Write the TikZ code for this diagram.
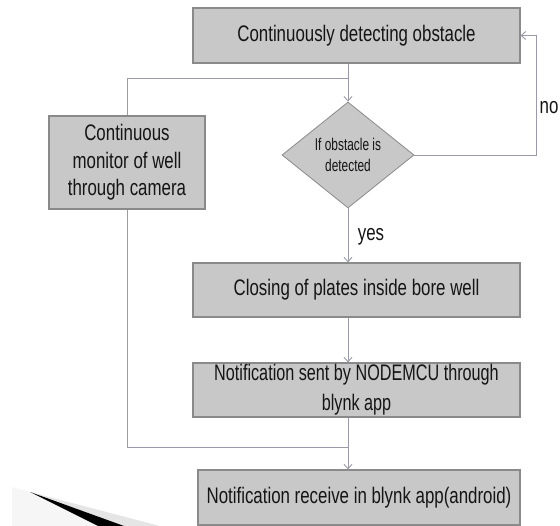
\documentclass[tikz,border=0pt]{standalone}
\usepackage{fontspec}
\setmainfont{Liberation Sans}[FakeStretch=0.75]
\newfontfamily\diafont{Liberation Sans}[FakeStretch=0.70]
\newfontfamily\notiffont{Liberation Sans}[FakeStretch=0.72]
\usetikzlibrary{shapes.geometric,arrows.meta}
\definecolor{boxfill}{HTML}{C8C8C8}
\definecolor{boxline}{HTML}{8A8A8A}
\definecolor{conn}{HTML}{9A9AAA}
\definecolor{txt}{HTML}{151515}
\tikzset{
  flowbox/.style={draw=boxline, line width=1.1pt, fill=boxfill, inner sep=0pt, align=center, text=txt, font=\fontsize{22.5}{27.5}\selectfont},
  decision/.style={diamond, draw=boxline, line width=0.8pt, fill=boxfill, inner sep=0pt, align=center, text=txt, font=\diafont\fontsize{17}{21.5}\selectfont, minimum width=132pt, minimum height=106pt, aspect=1.25},
  link/.style={draw=conn, line width=0.9pt},
  arr/.style={link, -{Straight Barb[length=4.5pt,width=8pt]}},
  lbl/.style={text=txt, font=\fontsize{22.5}{24}\selectfont, inner sep=0pt}
}
\begin{document}
\begin{tikzpicture}[x=1pt,y=-1pt]
\useasboundingbox (0,0) rectangle (560,526);
% decorative swoosh
\fill[gray!7] (12,487) -- (30,492) -- (100,526) -- (12,526) -- cycle;
\fill[gray!20] (30,492) -- (160,526) -- (120,526) -- cycle;
\fill[black] (30,492) -- (124,526) -- (98,526) -- cycle;
% nodes
\node[flowbox, minimum width=327pt, minimum height=55pt] (top) at (356.5,35.5) {Continuously detecting obstacle};
\node[flowbox, minimum width=156pt, minimum height=93pt] (left) at (127,162.5) {Continuous\\monitor of well\\through camera};
\node[decision] (dia) at (348,155) {If obstacle is\\detected};
\node[flowbox, minimum width=327pt, minimum height=54pt] (close) at (356.5,290) {Closing of plates inside bore well};
\node[flowbox, minimum width=327pt, minimum height=54pt, font=\notiffont\fontsize{22.5}{30}\selectfont] (notif) at (356.5,390) {Notification sent by NODEMCU through\\blynk app};
\node[flowbox, minimum width=322pt, minimum height=55pt] (final) at (359,497.5) {Notification receive in blynk app(android)};
\node[lbl] (no) at (549,108) {no};
\node[lbl] (yes) at (371,237) {yes};
% coordinates
\coordinate (cx) at (348,0);
\coordinate (b1) at (348,78);
\coordinate (b2) at (348,447);
\coordinate (nc) at (536,155);
% connectors
\draw[arr] (top.south -| cx) -- (dia.north);
\draw[link] (b1) -| (left.north);
\draw[arr] (dia.south) -- (close.north -| cx);
\draw[arr] (dia.east) -- (nc) |- (top.east);
\draw[arr] (close.south -| cx) -- (notif.north -| cx);
\draw[link] (left.south) |- (b2);
\draw[arr] (notif.south -| cx) -- (final.north -| cx);
\end{tikzpicture}
\end{document}
